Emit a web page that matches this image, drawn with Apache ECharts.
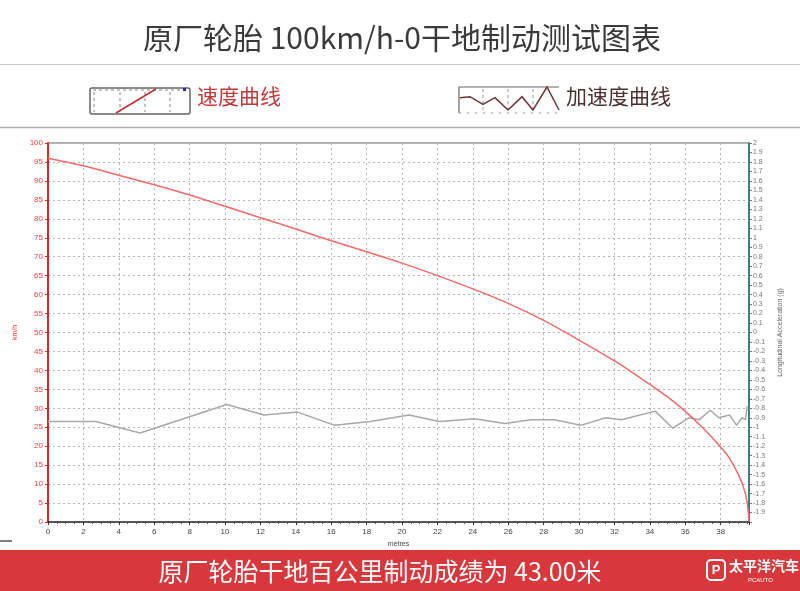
<!DOCTYPE html>
<html><head><meta charset="utf-8">
<script src="https://cdn.jsdelivr.net/npm/echarts@6/dist/echarts.min.js"></script>
<style>html,body{margin:0;padding:0;background:#fff}#c{width:800px;height:591px}</style>
</head><body><div id="c"></div>
<script>
// Speed curve: distance (m), speed (km/h)
const speedDist = [0, 2, 4, 6, 8, 10, 12, 14, 16, 18, 20, 22, 24, 26, 28, 30, 32, 33, 34, 35, 36, 37, 38, 38.5, 39, 39.3, 39.5, 39.6];
const speedVal  = [96, 94, 91.5, 89, 86.3, 83.3, 80.3, 77.3, 74.2, 71.3, 68.3, 65, 61.5, 57.7, 53.2, 48, 42.5, 39.5, 36.3, 33, 29.2, 24.8, 19.8, 16.8, 12.5, 9, 5, 0];
// Acceleration curve: distance (m), longitudinal acceleration (g)
const accDist = [0, 2.7, 5.2, 10.1, 12.2, 14.1, 16.2, 18.2, 20.4, 22.1, 24.1, 25.8, 27.3, 28.6, 30.1, 31.5, 32.4, 34.3, 35.3, 36.2, 36.8, 37.4, 37.9, 38.5, 38.9, 39.2, 39.4, 39.5];
const accVal  = [-0.94, -0.94, -1.06, -0.76, -0.87, -0.84, -0.98, -0.94, -0.87, -0.94, -0.91, -0.96, -0.92, -0.92, -0.98, -0.90, -0.92, -0.83, -1.01, -0.90, -0.92, -0.82, -0.90, -0.87, -0.98, -0.90, -0.92, -0.78];
const titleText = '原厂轮胎 100km/h-0干地制动测试图表';
const legendSpeed = '速度曲线';
const legendAcc = '加速度曲线';
const footerText = '原厂轮胎干地百公里制动成绩为 43.00米';

const chart = echarts.init(document.getElementById('c'));
const FONT = '"Noto Sans CJK SC", "Noto Sans", sans-serif';
const dotted = {show: true, lineStyle: {color: '#b5b5b5', type: [2, 3], width: 1}};

chart.setOption({
  animation: false,
  backgroundColor: '#fff',
  grid: {left: 48, right: 51, top: 143, bottom: 69, containLabel: false},
  xAxis: {
    type: 'value', min: 0, max: 39.6, interval: 2,
    name: 'metres', nameLocation: 'middle', nameGap: 16,
    nameTextStyle: {fontSize: 7, color: '#444', fontFamily: 'Arial'},
    axisLine: {lineStyle: {color: '#222', width: 1.5}},
    axisTick: {show: true, length: 3, lineStyle: {color: '#333'}},
    minorTick: {show: true, splitNumber: 4, length: 2, lineStyle: {color: '#555'}},
    axisLabel: {fontSize: 8, color: '#444', margin: 6, showMaxLabel: false, fontFamily: 'Arial'},
    splitLine: dotted
  },
  yAxis: [{
    type: 'value', min: 0, max: 100, interval: 5, position: 'left',
    name: 'km/h', nameLocation: 'middle', nameGap: 26, nameRotate: 90,
    nameTextStyle: {fontSize: 7, color: '#e03030', fontFamily: 'Arial'},
    axisLine: {show: true, lineStyle: {color: '#e52222', width: 2}},
    axisTick: {show: true, length: 3, lineStyle: {color: '#e52222'}},
    axisLabel: {fontSize: 8, color: '#f04040', margin: 5, fontFamily: 'Arial'},
    splitLine: dotted
  }, {
    type: 'value', min: -2, max: 2, interval: 0.1, position: 'right',
    name: 'Longitudinal Acceleration (g)', nameLocation: 'middle', nameGap: 28, nameRotate: 90,
    nameTextStyle: {fontSize: 7, color: '#666', fontFamily: 'Arial'},
    axisLine: {show: true, lineStyle: {color: '#3f7f7f', width: 2}},
    axisTick: {show: true, length: 3, lineStyle: {color: '#777'}},
    axisLabel: {fontSize: 7, color: '#777', margin: 4, fontFamily: 'Arial',
      formatter: v => (Math.abs(v + 2) < 1e-6 ? '' : String(+v.toFixed(1)))},
    splitLine: {show: false}
  }],
  series: [{
    type: 'line', yAxisIndex: 1, showSymbol: false, symbol: 'none',
    data: accDist.map((d, i) => [d, accVal[i]]),
    lineStyle: {color: '#a8a8a8', width: 1.5}, z: 2
  }, {
    type: 'line', yAxisIndex: 0, showSymbol: false, symbol: 'none', smooth: 0.3,
    data: speedDist.map((d, i) => [d, speedVal[i]]),
    lineStyle: {color: '#f26a6a', width: 1.5}, z: 3
  }],
  graphic: [
    // title
    {type: 'text', x: 402, y: 38, style: {text: titleText, font: '30px ' + FONT, fill: '#3a3a3a', textAlign: 'center', textVerticalAlign: 'middle'}},
    {type: 'line', shape: {x1: 0, y1: 64.5, x2: 800, y2: 64.5}, style: {stroke: '#c8c8c8', lineWidth: 1}},
    {type: 'line', shape: {x1: 0, y1: 127.5, x2: 800, y2: 127.5}, style: {stroke: '#b0b0b0', lineWidth: 1.5}},
    // plot top border
    {type: 'line', shape: {x1: 48, y1: 143, x2: 749, y2: 143}, style: {stroke: '#999', lineWidth: 1.5}},
    // legend 1 icon
    {type: 'rect', shape: {x: 90, y: 88, width: 100, height: 26, r: 2}, style: {fill: '#fff', stroke: '#666', lineWidth: 1.5}},
    {type: 'line', shape: {x1: 93, y1: 90, x2: 186, y2: 90}, style: {stroke: '#888', lineDash: [3, 3], lineWidth: 1}},
    {type: 'line', shape: {x1: 94, y1: 92, x2: 94, y2: 112}, style: {stroke: '#888', lineDash: [3, 3], lineWidth: 1}},
    {type: 'line', shape: {x1: 120, y1: 92, x2: 120, y2: 112}, style: {stroke: '#888', lineDash: [3, 3], lineWidth: 1}},
    {type: 'line', shape: {x1: 145, y1: 92, x2: 145, y2: 112}, style: {stroke: '#888', lineDash: [3, 3], lineWidth: 1}},
    {type: 'line', shape: {x1: 170, y1: 92, x2: 170, y2: 112}, style: {stroke: '#888', lineDash: [3, 3], lineWidth: 1}},
    {type: 'line', shape: {x1: 116, y1: 113, x2: 156, y2: 89}, style: {stroke: '#c03030', lineWidth: 1.5}},
    {type: 'rect', shape: {x: 183, y: 88, width: 3, height: 3}, style: {fill: '#2a2a8a'}},
    {type: 'text', left: 197, top: 86, style: {text: legendSpeed, font: '21px ' + FONT, fill: '#c23a3a'}},
    // legend 2 icon
    {type: 'polyline', shape: {points: [[459, 113], [459, 87], [559, 87]]}, style: {stroke: '#666', lineWidth: 1.2, fill: null}},
    {type: 'line', shape: {x1: 459, y1: 113, x2: 559, y2: 113}, style: {stroke: '#999', lineDash: [2, 6], lineWidth: 1}},
    {type: 'line', shape: {x1: 483, y1: 89, x2: 483, y2: 112}, style: {stroke: '#999', lineDash: [3, 3], lineWidth: 1}},
    {type: 'line', shape: {x1: 508, y1: 89, x2: 508, y2: 112}, style: {stroke: '#999', lineDash: [3, 3], lineWidth: 1}},
    {type: 'line', shape: {x1: 533, y1: 89, x2: 533, y2: 112}, style: {stroke: '#999', lineDash: [3, 3], lineWidth: 1}},
    {type: 'polyline', shape: {points: [[460, 97.7], [470, 96.7], [483, 104.3], [495, 97.7], [508, 110], [522, 96.7], [533, 110], [547, 87], [559, 110]]}, style: {stroke: '#6b3434', lineWidth: 1.5, fill: null}},
    {type: 'text', left: 566, top: 86, style: {text: legendAcc, font: '21px ' + FONT, fill: '#4d3030'}},
    // bottom left mark
    {type: 'line', shape: {x1: 0, y1: 541, x2: 12, y2: 541}, style: {stroke: '#555', lineWidth: 1.5}},
    // footer
    {type: 'rect', shape: {x: 0, y: 550, width: 800, height: 41}, style: {fill: '#d8383c'}},
    {type: 'text', x: 380, y: 571, style: {text: footerText, font: '25px ' + FONT, fill: '#fff', textAlign: 'center', textVerticalAlign: 'middle'}},
    {type: 'rect', shape: {x: 707, y: 560, width: 18, height: 20, r: 4}, style: {fill: 'none', stroke: '#fff', lineWidth: 2}},
    {type: 'text', x: 716, y: 570, style: {text: 'P', font: 'bold 13px Arial', fill: '#fff', textAlign: 'center', textVerticalAlign: 'middle'}},
    {type: 'text', x: 729, y: 559, style: {text: '太平洋汽车', font: 'bold 14px ' + FONT, fill: '#fff'}},
    {type: 'text', x: 748, y: 577, style: {text: 'PCAUTO', font: '6px Arial', fill: '#fff'}}
  ]
});
</script></body></html>
